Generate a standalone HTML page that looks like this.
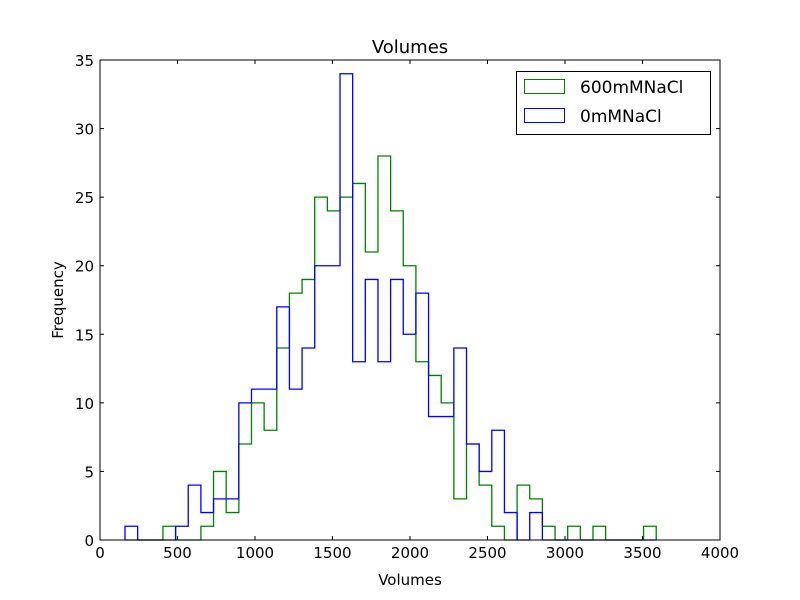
<!DOCTYPE html>
<html><head><meta charset="utf-8"><style>
body{margin:0;background:#fff;}
svg{display:block;font-family:"DejaVu Sans","Liberation Sans",sans-serif;}
</style></head><body>
<svg id="chart" width="800" height="600">
<rect width="800" height="600" fill="#fff"/>
<text x="410" y="53" font-size="18" text-anchor="middle">Volumes</text>
<text x="410" y="585" font-size="15" text-anchor="middle">Volumes</text>
<text transform="translate(63,300) rotate(-90)" font-size="15" text-anchor="middle">Frequency</text>
<g id="ticks"></g>
<g id="series"></g>
<rect x="100" y="60" width="620" height="480" fill="none" stroke="#000" stroke-width="1"/>
<g>
<rect x="516.5" y="71.5" width="194" height="63" fill="#fff" stroke="#000"/>
<rect x="524.5" y="79.5" width="40" height="14" fill="none" stroke="#008000" stroke-width="1"/>
<text x="580" y="93" font-size="17">600mMNaCl</text>
<rect x="524.5" y="108.5" width="40" height="14" fill="none" stroke="#0000ff" stroke-width="1"/>
<text x="580" y="122" font-size="17">0mMNaCl</text>
</g>
</svg>
<script>
const binStart = 161.3;
const binWidth = 81.6;
const green600 = [0,0,0,1,0,0,1,5,2,7,10,8,14,18,19,25,24,25,26,21,28,24,20,13,12,10,3,7,4,1,0,4,3,1,0,1,0,1,0,0,0,1];
const blue0 = [1,0,0,0,1,4,2,3,3,10,11,11,17,11,14,20,20,34,13,19,13,19,15,18,9,9,14,7,5,8,2,0,2,0,0,0,0,0,0,0,0,0];
const xTicks = [0,500,1000,1500,2000,2500,3000,3500,4000];
const yTicks = [0,5,10,15,20,25,30,35];
const NS='http://www.w3.org/2000/svg';
function xs(v){return 100+v*620/4000;}
function ys(v){return 540-v*480/35;}
const tg=document.getElementById('ticks');
xTicks.forEach(t=>{
  const x=xs(t);
  const l=document.createElementNS(NS,'path');
  l.setAttribute('d',`M${x},540v-4M${x},60v4`);l.setAttribute('stroke','#000');
  
  
  tg.appendChild(l);
  const tx=document.createElementNS(NS,'text');
  tx.setAttribute('x',x);tx.setAttribute('y',558);tx.setAttribute('font-size','15');tx.setAttribute('text-anchor','middle');
  tx.textContent=t;
  
  
  tg.appendChild(tx);
});
yTicks.forEach(t=>{
  const y=ys(t);
  const l=document.createElementNS(NS,'path');
  l.setAttribute('d',`M100,${y}h4M720,${y}h-4`);l.setAttribute('stroke','#000');
  
  
  tg.appendChild(l);
  const tx=document.createElementNS(NS,'text');
  tx.setAttribute('x',94);tx.setAttribute('y',y+6);tx.setAttribute('font-size','15');tx.setAttribute('text-anchor','end');
  tx.textContent=t;
  
  
  tg.appendChild(tx);
});
const sg=document.getElementById('series');
function step(vals,color,name){
  let d=`M${xs(binStart)},${ys(0)}`;
  vals.forEach((v,i)=>{
    const x0=xs(binStart+i*binWidth), x1=xs(binStart+(i+1)*binWidth);
    d+=`L${x0},${ys(v)}L${x1},${ys(v)}`;
  });
  d+=`L${xs(binStart+vals.length*binWidth)},${ys(0)}`;
  const p=document.createElementNS(NS,'path');
  p.setAttribute('d',d);p.setAttribute('fill','none');p.setAttribute('stroke',color);p.setAttribute('stroke-width','1.3');
  
  
  sg.appendChild(p);
}
step(green600,'#008000','series-600mmnacl');
step(blue0,'#0000ff','series-0mmnacl');
</script>
</body></html>
